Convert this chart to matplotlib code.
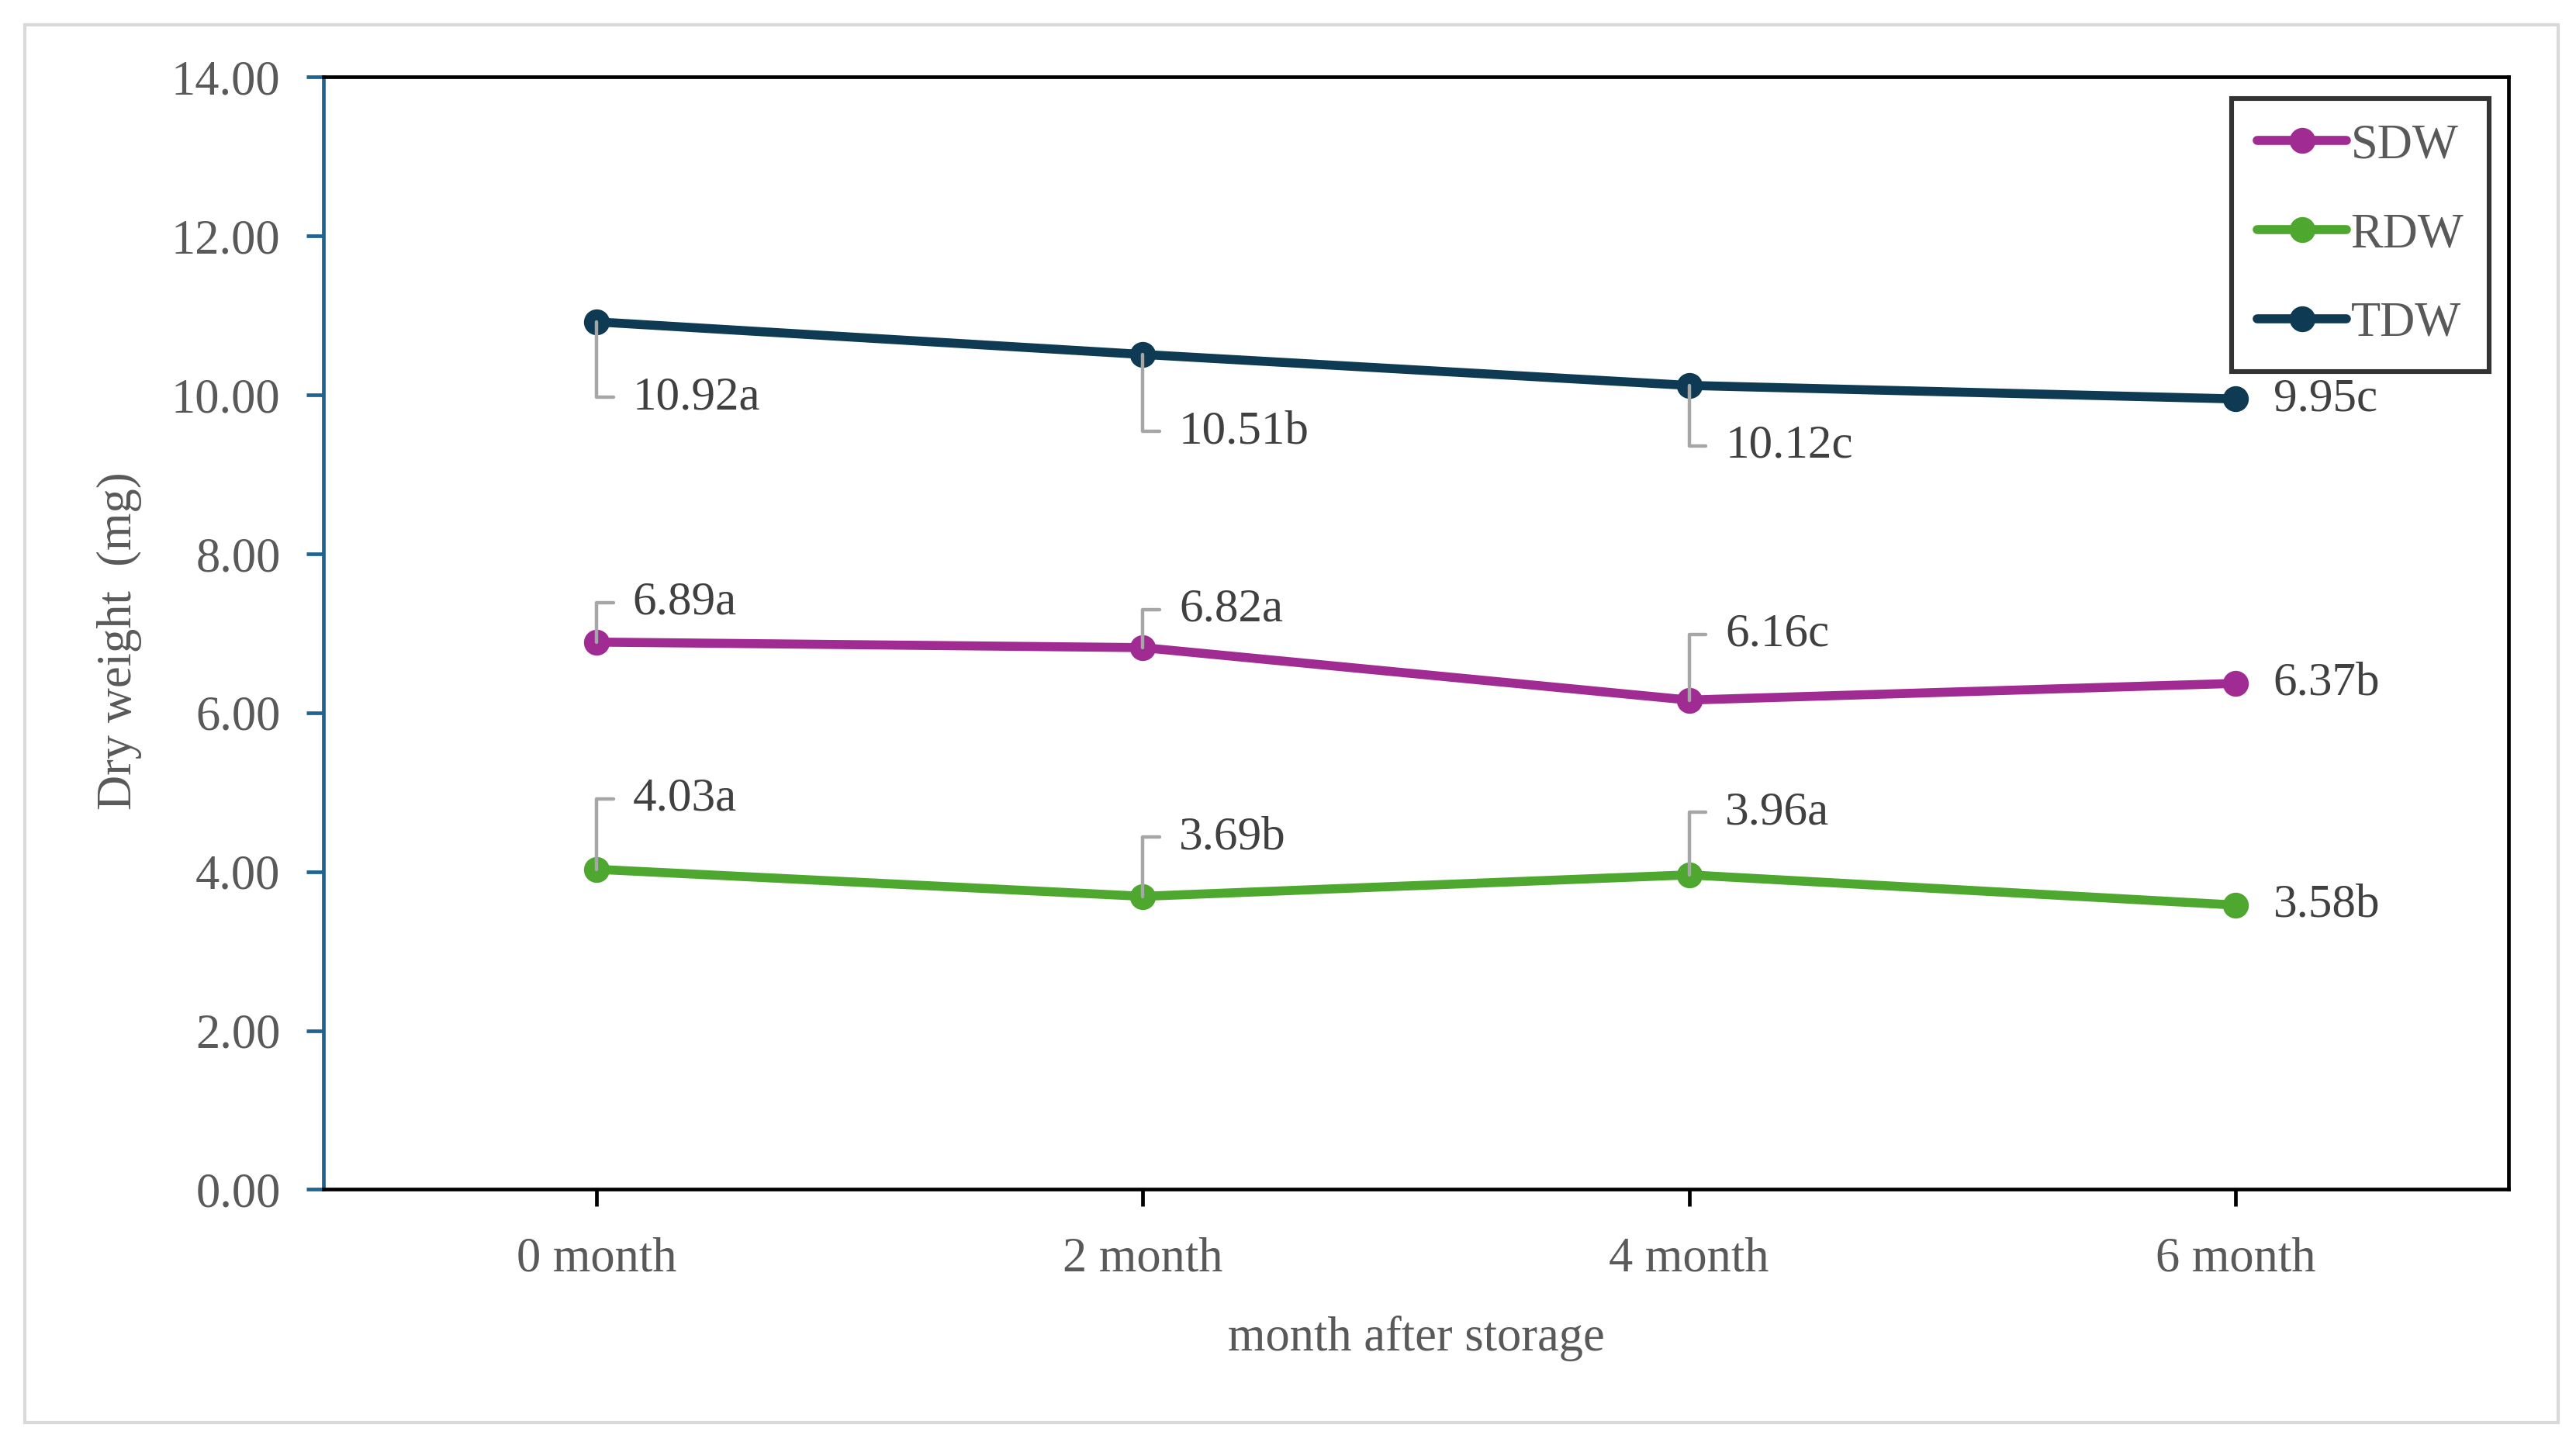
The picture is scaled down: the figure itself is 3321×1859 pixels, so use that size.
import matplotlib.pyplot as plt
from matplotlib.patches import Rectangle

plt.rcParams['font.family'] = ['Liberation Serif', 'DejaVu Serif']

months = ['0 month', '2 month', '4 month', '6 month']
sdw = [6.89, 6.82, 6.16, 6.37]
rdw = [4.03, 3.69, 3.96, 3.58]
tdw = [10.92, 10.51, 10.12, 9.95]
sdw_letters = ['a', 'a', 'c', 'b']
rdw_letters = ['a', 'b', 'a', 'b']
tdw_letters = ['a', 'b', 'c', 'c']

text_gray = '#595959'
c_sdw = '#A02B93'
c_rdw = '#4EA72E'
c_tdw = '#0E3A54'

# label offsets in points (dx, dy) from each point
px = 0.762
sdw_off = [(22, 24), (22, 23), (22, 40), (23, 0)]
rdw_off = [(22, 43), (22, 36), (22, 38), (23, 0)]
tdw_off = [(22, -46), (22, -47), (22, -37), (23, 0)]

fig = plt.figure(figsize=(16.605, 9.295), dpi=200)
ax = fig.add_axes([0.1256, 0.1751, 0.8482, 0.7714])

# outer light gray frame
fig.patches.append(Rectangle((0.0096, 0.0133), 0.9834, 0.9697, transform=fig.transFigure,
                             fill=False, edgecolor='#d9d9d9', linewidth=1.5))

x = list(range(len(months)))
ax.plot(x, sdw, color=c_sdw, lw=4.2, marker='o', ms=11, label='SDW', solid_capstyle='round')
ax.plot(x, rdw, color=c_rdw, lw=4.2, marker='o', ms=11, label='RDW', solid_capstyle='round')
ax.plot(x, tdw, color=c_tdw, lw=4.2, marker='o', ms=11, label='TDW', solid_capstyle='round')

for vals, letters, offs in [(sdw, sdw_letters, sdw_off), (rdw, rdw_letters, rdw_off),
                            (tdw, tdw_letters, tdw_off)]:
    for i, (v, l, (dx, dy)) in enumerate(zip(vals, letters, offs)):
        txt = f'{v:.2f}{l}'
        if i < len(vals) - 1:
            ax.annotate(txt, xy=(i, v), xytext=(dx * px, dy * px), textcoords='offset points',
                        ha='left', va='center', fontsize=22, color='#404040',
                        arrowprops=dict(arrowstyle='-', color='#a6a6a6', lw=1.6,
                                        connectionstyle='angle,angleA=0,angleB=90,rad=0',
                                        shrinkA=7, shrinkB=0, relpos=(0, 0.5)),
                        zorder=5)
        else:
            ax.annotate(txt, xy=(i, v), xytext=(dx * px, dy * px), textcoords='offset points',
                        ha='left', va='center', fontsize=22, color='#404040')

ax.set_xlim(-0.5, 3.5)
ax.set_ylim(0, 14)
ax.set_yticks([0, 2, 4, 6, 8, 10, 12, 14])
ax.set_yticklabels([f'{t:.2f}' for t in [0, 2, 4, 6, 8, 10, 12, 14]])
ax.set_xticks(x)
ax.set_xticklabels(months)

for s in ['top', 'right', 'bottom']:
    ax.spines[s].set_color('black')
    ax.spines[s].set_linewidth(1.7)
ax.spines['left'].set_color('#1F6391')
ax.spines['left'].set_linewidth(1.7)

ax.tick_params(axis='y', direction='out', length=8, width=1.7, color='#1F6391',
               labelsize=22.5, labelcolor=text_gray, pad=12)
ax.tick_params(axis='x', direction='out', length=8, width=1.7, color='black',
               labelsize=22.5, labelcolor=text_gray, pad=14)

ax.set_ylabel('Dry weight  (mg)', fontsize=22.5, color=text_gray)
ax.yaxis.set_label_coords(-0.083, 0.493)
ax.set_xlabel('month after storage', fontsize=22.5, color=text_gray)
ax.xaxis.set_label_coords(0.5, -0.113)

leg = ax.legend(loc='upper right', bbox_to_anchor=(0.991, 0.981), borderaxespad=0,
                fontsize=22.5, fancybox=False, handlelength=1.85, handletextpad=0.08,
                labelspacing=0.91, borderpad=0.52)
leg.get_frame().set_edgecolor('black')
leg.get_frame().set_linewidth(2.2)
for t in leg.get_texts():
    t.set_color(text_gray)

fig.savefig('out.png', dpi=200)
